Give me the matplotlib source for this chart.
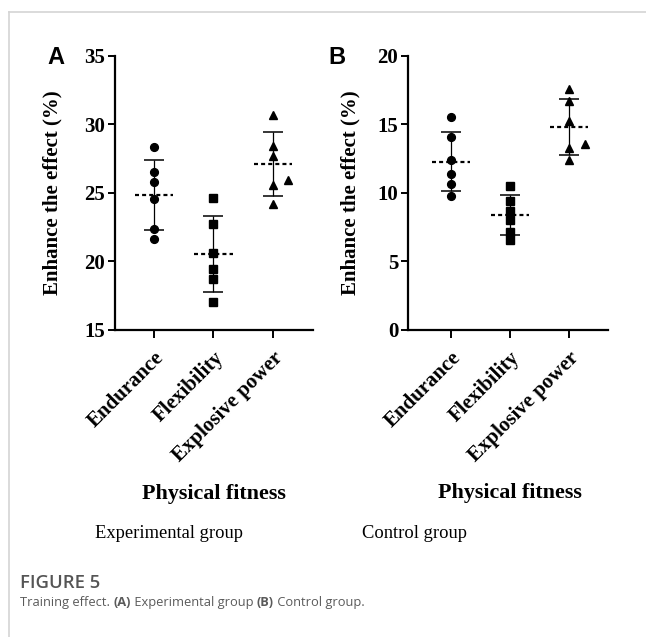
import numpy as np
import matplotlib
matplotlib.use("Agg")
import matplotlib.pyplot as plt
from matplotlib.lines import Line2D

# values (%)
categories = ["Endurance", "Flexibility", "Explosive power"]

exp_endurance = [28.34, 26.54, 25.80, 24.56, 22.37, 21.66]
exp_flexibility = [24.63, 22.76, 20.61, 19.44, 18.73, 17.02]
exp_explosive = [30.68, 28.46, 27.68, 25.98, 25.61, 24.20]

ctl_endurance = [15.56, 14.08, 12.38, 11.36, 10.63, 9.78]
ctl_flexibility = [10.51, 9.42, 8.69, 8.01, 7.18, 6.55]
ctl_explosive = [17.60, 16.75, 15.29, 13.59, 13.30, 12.40]

# horizontal nudge of overlapping points (as in the original scatter)
exp_nudge = [[0] * 6, [0] * 6, [0, 0, 0, 0.25, 0, 0]]
ctl_nudge = [[0] * 6, [0] * 6, [0, 0, 0, 0.27, 0, 0]]

markers = ["o", "s", "^"]
msizes = [5.6, 5.4, 6.2]

W, H = 646, 637
fig = plt.figure(figsize=(W / 100, H / 100), dpi=100)
serif = "Liberation Serif"


def px_axes(left, top, right, bottom):
    return fig.add_axes([left / W, 1 - bottom / H, (right - left) / W, (bottom - top) / H])


def draw_panel(ax, groups, nudges, ylim, yticks, xlim, letter, letter_x):
    for i, vals in enumerate(groups):
        vals = np.array(vals)
        m = vals.mean()
        sd = vals.std(ddof=1)
        ax.errorbar([i], [m], yerr=[sd], fmt="none", ecolor="black", elinewidth=0.9,
                    capsize=7.5, capthick=1.1, zorder=2)
        ax.plot([i - 0.32, i + 0.32], [m, m], color="black", lw=1.6,
                ls=(0, (1.8, 1.4)), zorder=2)
        xs = i + np.array(nudges[i])
        ax.plot(xs, vals, ls="none", marker=markers[i], ms=msizes[i], color="black", zorder=3)

    ax.set_xlim(*xlim)
    ax.set_ylim(*ylim)
    ax.set_yticks(yticks)
    ax.set_xticks(range(len(categories)))
    ax.set_xticklabels(categories, rotation=45, ha="right", va="top",
                       rotation_mode="anchor")
    for s in ["top", "right"]:
        ax.spines[s].set_visible(False)
    for s in ["left", "bottom"]:
        ax.spines[s].set_linewidth(1.6)
    ax.tick_params(axis="y", length=5, width=1.4, pad=2)
    ax.tick_params(axis="x", length=6, width=1.4, pad=7)
    for lab in ax.get_xticklabels() + ax.get_yticklabels():
        lab.set_fontfamily(serif)
        lab.set_fontweight("bold")
        lab.set_fontsize(15)
    ax.set_ylabel("Enhance the effect (%)", fontfamily=serif, fontweight="bold", fontsize=15)
    ax.set_xlabel("Physical fitness", fontfamily=serif, fontweight="bold", fontsize=15.8)
    fig.text(letter_x / W, 1 - 57 / H, letter, fontfamily="Liberation Sans",
             fontweight="bold", fontsize=17, ha="center", va="center")


axA = px_axes(115, 56, 313, 330)
draw_panel(axA, [exp_endurance, exp_flexibility, exp_explosive], exp_nudge,
           (15, 35), [15, 20, 25, 30, 35], (-0.655, 2.672), "A", 56)
axA.yaxis.set_label_coords(-0.265, 0.5)
axA.xaxis.set_label_coords(0.5, -0.6)
axA.xaxis.label.set_va("center")

axB = px_axes(408, 56, 608, 330)
draw_panel(axB, [ctl_endurance, ctl_flexibility, ctl_explosive], ctl_nudge,
           (0, 20), [0, 5, 10, 15, 20], (-0.729, 2.66), "B", 337)
axB.yaxis.set_label_coords(-0.24, 0.5)
axB.xaxis.set_label_coords(0.51, -0.595)
axB.xaxis.label.set_va("center")

fig.text(169 / W, 1 - 533 / H, "Experimental group", fontfamily=serif, fontsize=13.3,
         ha="center", va="center")
fig.text(415 / W, 1 - 533 / H, "Control group", fontfamily=serif, fontsize=13.3,
         ha="center", va="center")

# page frame
fig.add_artist(Line2D([9 / W, 1], [1 - 12 / H] * 2, transform=fig.transFigure,
                      color="#d4d4d4", lw=1.2))
fig.add_artist(Line2D([9 / W] * 2, [0, 1 - 12 / H], transform=fig.transFigure,
                      color="#d4d4d4", lw=1.2))

# caption
cap = "Open Sans"
fig.text(20 / W, 1 - 583 / H, "FIGURE 5", fontfamily=cap, fontweight="semibold",
         fontsize=13.3, color="#555555", ha="left", va="center")

pieces = [("Training effect. ", "normal"), ("(A)", "bold"), (" Experimental group ", "normal"),
          ("(B)", "bold"), (" Control group.", "normal")]
renderer = fig.canvas.get_renderer()
x = 20
for txt, wt in pieces:
    t = fig.text(x / W, 1 - 606 / H, txt, fontfamily=cap, fontweight=wt, fontsize=9.3,
                 color="#5a5a5a", ha="left", va="baseline")
    bb = t.get_window_extent(renderer)
    x += bb.width

fig.savefig("out.png", dpi=100)
